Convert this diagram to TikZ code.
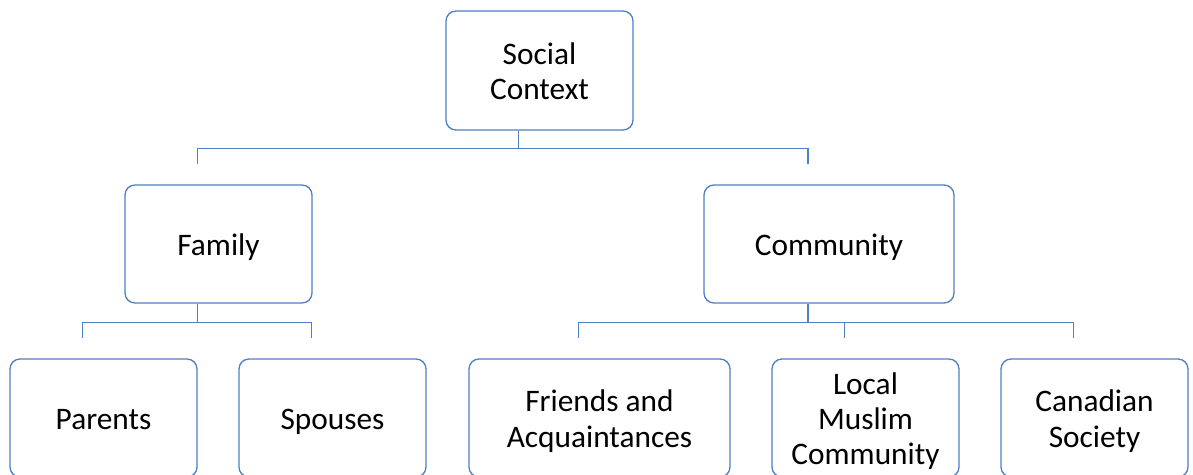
\documentclass[tikz,border=0pt]{standalone}
\usepackage{fontspec}
\setmainfont{Carlito}
\usetikzlibrary{positioning,calc}
\definecolor{boxblue}{RGB}{79,129,196}
\newcommand{\topstrut}{\rule{0pt}{23.2pt}}
\newcommand{\botstrut}{\rule[-6pt]{0pt}{6pt}}
\begin{document}
\begin{tikzpicture}[x=0.75pt, y=-0.75pt,
    box/.style={draw=boxblue, line width=1pt, rounded corners=7.5pt, fill=white, align=center,
      minimum width=187*0.75pt, minimum height=118*0.75pt, inner sep=0pt,
      font=\fontsize{23.5}{26.5}\selectfont},
    conn/.style={draw=boxblue, line width=1pt}]
    \useasboundingbox (0,0) rectangle (1193,475);
    \node[box, minimum height=119*0.75pt] (social) at (539.5,70.5) {\topstrut Social\\Context\botstrut};
    \node[box] (family) at (218.5,244) {\topstrut Family\botstrut};
    \node[box, minimum width=250*0.75pt] (community) at (829,244) {\topstrut Community\botstrut};
    \node[box] (parents) at (103.5,418) {\topstrut Parents\botstrut};
    \node[box] (spouses) at (332.5,418) {\topstrut Spouses\botstrut};
    \node[box, minimum width=261*0.75pt] (friends) at (599.5,418) {\topstrut Friends and\\Acquaintances\botstrut};
    \node[box] (muslim) at (865.5,418) {\topstrut Local\\Muslim\\Community\botstrut};
    \node[box] (canadian) at (1094.5,418) {\topstrut Canadian\\Society\botstrut};
    \coordinate (family-in) at ($(family.north)+(-21,-20)$);
    \coordinate (community-in) at ($(community.north)+(-21,-20)$);
    \coordinate (parents-in) at ($(parents.north)+(-21,-20)$);
    \coordinate (spouses-in) at ($(spouses.north)+(-21,-20)$);
    \coordinate (friends-in) at ($(friends.north)+(-21,-20)$);
    \coordinate (muslim-in) at ($(muslim.north)+(-21,-20)$);
    \coordinate (canadian-in) at ($(canadian.north)+(-21,-20)$);
    \draw[conn] ($(social.south)+(-21,0)$) -- ++(0,18) -| (family-in);
    \draw[conn] ($(social.south)+(-21,0)$) -- ++(0,18) -| (community-in);
    \draw[conn] ($(family.south)+(-21,0)$) -- ++(0,19) -| (parents-in);
    \draw[conn] ($(family.south)+(-21,0)$) -- ++(0,19) -| (spouses-in);
    \draw[conn] ($(community.south)+(-21,0)$) -- ++(0,19) -| (friends-in);
    \draw[conn] ($(community.south)+(-21,0)$) -- ++(0,19) -| (muslim-in);
    \draw[conn] ($(community.south)+(-21,0)$) -- ++(0,19) -| (canadian-in);
\end{tikzpicture}
\end{document}
